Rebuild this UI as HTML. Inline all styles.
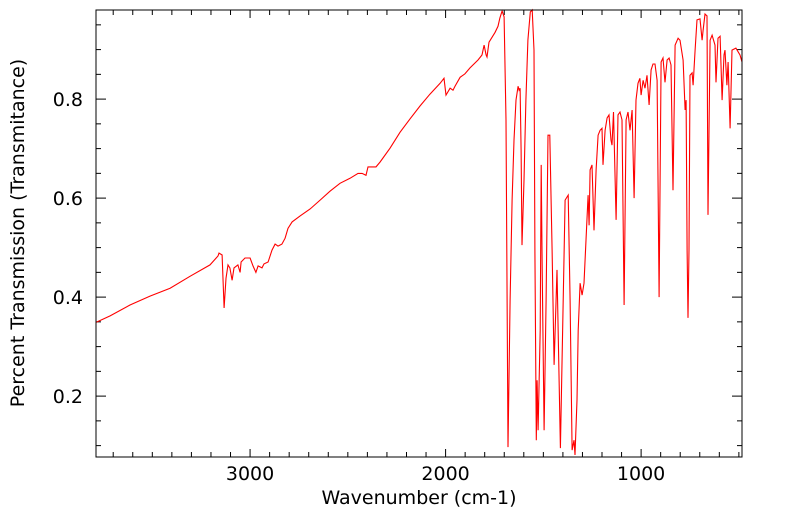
<!DOCTYPE html>
<html><head><meta charset="utf-8"><style>
body{margin:0;background:#fff;}
svg text{font-family:"DejaVu Sans","Liberation Sans",sans-serif;}
</style></head><body>
<svg id="chart" width="799" height="516" xmlns="http://www.w3.org/2000/svg">
<g id="axes"></g>
<path id="spectrum" fill="none" stroke="#ff0000" stroke-width="1.1"/>
<rect x="96" y="10" width="646" height="447" fill="none" stroke="#000" stroke-width="1"/>
<text x="419" y="504" font-size="19" text-anchor="middle">Wavenumber (cm-1)</text>
<text transform="translate(24,233) rotate(-90)" font-size="19" text-anchor="middle">Percent Transmission (Transmitance)</text>
</svg>
<script>
const wavenumbers=[3788,3716,3614,3512,3409,3307,3205,3164,3159,3143,3133,3123,3113,3103,3092,3082,3062,3051,3046,3026,3000,2985,2970,2959,2939,2929,2908,2888,2872,2857,2837,2821,2806,2785,2744,2693,2642,2591,2540,2489,2448,2427,2407,2397,2376,2356,2335,2284,2233,2182,2131,2080,2028,2008,1998,1977,1962,1952,1926,1901,1875,1834,1814,1803,1793,1788,1778,1762,1747,1732,1722,1711,1701,1691,1681,1670,1660,1650,1640,1629,1624,1619,1614,1609,1599,1589,1579,1567,1557,1548,1543,1536,1532,1527,1516,1511,1506,1496,1486,1476,1467,1455,1445,1430,1413,1389,1373,1363,1353,1343,1338,1328,1322,1312,1302,1292,1282,1271,1266,1261,1251,1241,1230,1220,1210,1200,1195,1184,1174,1164,1154,1149,1141,1128,1118,1108,1098,1087,1077,1067,1057,1046,1036,1026,1016,1006,1000,990,980,970,959,949,939,929,918,908,898,888,878,867,857,847,837,826,811,801,785,775,770,765,760,755,750,739,734,724,714,699,688,683,673,663,658,647,637,622,617,607,596,586,576,571,561,555,545,535,515,494,484];
const transmittance=[0.349,0.362,0.384,0.402,0.418,0.442,0.465,0.483,0.489,0.485,0.378,0.438,0.465,0.459,0.434,0.459,0.465,0.450,0.471,0.479,0.479,0.463,0.450,0.463,0.459,0.467,0.471,0.495,0.507,0.503,0.507,0.519,0.539,0.552,0.564,0.578,0.596,0.614,0.630,0.640,0.650,0.650,0.646,0.663,0.663,0.663,0.673,0.701,0.733,0.760,0.786,0.810,0.832,0.842,0.808,0.822,0.818,0.826,0.844,0.851,0.863,0.879,0.889,0.909,0.889,0.885,0.915,0.925,0.935,0.947,0.964,0.978,0.966,0.758,0.097,0.394,0.596,0.717,0.798,0.826,0.818,0.822,0.697,0.505,0.636,0.798,0.919,0.976,0.980,0.899,0.495,0.111,0.232,0.131,0.333,0.667,0.455,0.131,0.394,0.727,0.727,0.495,0.263,0.455,0.095,0.596,0.606,0.394,0.091,0.111,0.081,0.192,0.333,0.428,0.404,0.428,0.515,0.606,0.545,0.657,0.667,0.535,0.657,0.727,0.737,0.741,0.667,0.737,0.762,0.768,0.717,0.707,0.774,0.556,0.768,0.774,0.758,0.384,0.758,0.774,0.737,0.778,0.600,0.798,0.832,0.842,0.808,0.838,0.822,0.848,0.788,0.859,0.871,0.871,0.838,0.400,0.875,0.883,0.834,0.879,0.883,0.869,0.616,0.909,0.923,0.919,0.879,0.778,0.798,0.495,0.358,0.495,0.848,0.853,0.828,0.899,0.960,0.962,0.919,0.939,0.972,0.968,0.566,0.919,0.929,0.909,0.834,0.923,0.927,0.798,0.889,0.899,0.828,0.875,0.741,0.899,0.903,0.889,0.875];
const xTicks=[1000,2000,3000];
const yTicks=[0.2,0.4,0.6,0.8];
const X0=96,X1=742,Y0=10,Y1=457;
const wnLeft=3788,wnRight=484,tTop=0.98,tBot=0.077;
function xs(w){return X0+(wnLeft-w)/(wnLeft-wnRight)*(X1-X0);}
function ys(t){return Y0+(tTop-t)/(tTop-tBot)*(Y1-Y0);}
const ns='http://www.w3.org/2000/svg';
const axes=document.getElementById('axes');
function ln(x1,y1,x2,y2,name){const l=document.createElementNS(ns,'line');l.setAttribute('x1',x1);l.setAttribute('y1',y1);l.setAttribute('x2',x2);l.setAttribute('y2',y2);l.setAttribute('stroke','#000');l.setAttribute('stroke-width','1');


axes.appendChild(l);}
for(let w=500;w<=3700;w+=100){const x=xs(w);if(x<X0||x>X1)continue;const major=w%1000===0;const L=major?8:5;
ln(x,Y1,x,Y1-L,'x-tick');ln(x,Y0,x,Y0+L,'x-tick-top');}
for(let i=2;i<=19;i++){const t=i*0.05;const y=ys(t);if(y<Y0||y>Y1)continue;const major=i%4===0;const L=major?10:5;
ln(X0,y,X0+L,y,'y-tick');ln(X1,y,X1-L,y,'y-tick-right');}
xTicks.forEach(w=>{const t=document.createElementNS(ns,'text');t.setAttribute('x',xs(w));t.setAttribute('y',Y1+23);t.setAttribute('font-size','19');t.setAttribute('text-anchor','middle');t.textContent=String(w);


axes.appendChild(t);});
yTicks.forEach(v=>{const t=document.createElementNS(ns,'text');t.setAttribute('x',X0-13);t.setAttribute('y',ys(v)+7);t.setAttribute('font-size','19');t.setAttribute('text-anchor','end');t.textContent=v.toFixed(1);


axes.appendChild(t);});
let d='';
wavenumbers.forEach((w,i)=>{d+=(i?'L':'M')+xs(w).toFixed(1)+','+ys(transmittance[i]).toFixed(1);});
document.getElementById('spectrum').setAttribute('d',d);
</script>
</body></html>
